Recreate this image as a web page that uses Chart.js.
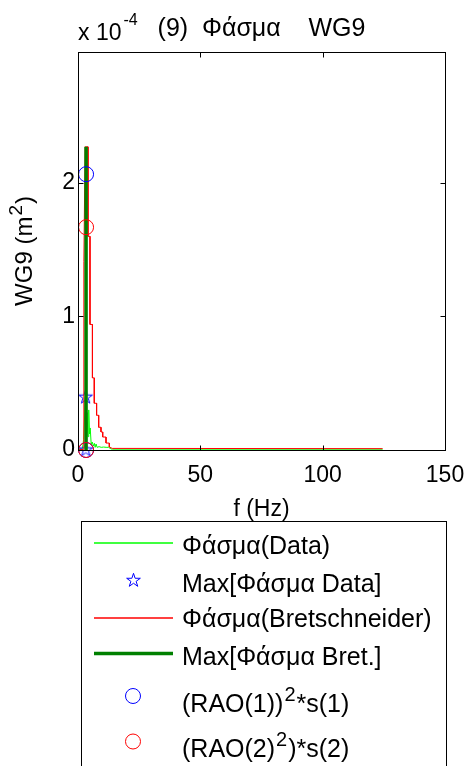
<!DOCTYPE html>
<html>
<head>
<meta charset="utf-8">
<script src="https://cdn.jsdelivr.net/npm/chart.js@4/dist/chart.umd.min.js"></script>
<style>
  html, body { margin: 0; padding: 0; background: #ffffff; }
  canvas { display: block; }
</style>
</head>
<body>
<canvas id="c" width="469" height="766"></canvas>
<script>
// ---------------- data (spectral density in units of 1e-4 m^2) ----------------
const yExponent = -4;
const xTicks = [0, 50, 100, 150];
const yTicks = [0, 1, 2];

const chartTitle = '(9)  Φάσμα    WG9';
const xTitle = 'f (Hz)';
const yTitle = 'WG9 (m²)';

const seriesLabels = [
  'Φάσμα(Data)',
  'Max[Φάσμα Data]',
  'Φάσμα(Bretschneider)',
  'Max[Φάσμα Bret.]',
  '(RAO(1))²*s(1)',
  '(RAO(2)²)*s(2)'
];

// measured spectrum (thin bright green)
const dataFreq = [0, 1.8, 2.3, 2.8, 3.0, 3.3, 3.7, 4.1, 4.4, 4.7, 5.0, 5.4, 5.8, 6.3, 6.7, 7.0, 7.4, 7.8, 8.6, 9.5, 10.5, 11.5, 12.5, 13.5, 14.0, 124.5];
const dataSpec = [0, 0.01, 0.08, 0.30, 0.395, 0.20, 0.28, 0.10, 0.30, 0.12, 0.165, 0.04, 0.06, 0.03, 0.05, 0.02, 0.045, 0.02, 0.025, 0.02, 0.022, 0.02, 0.02, 0.008, 0.006, 0.006];

// Bretschneider spectrum (thin red)
const bretFreq = [0, 2.25, 2.4, 2.9, 4.1, 4.1, 4.9, 4.9, 5.9, 5.9, 6.65, 6.65, 7.6, 7.6, 8.45, 8.45, 9.4, 9.4, 10.1, 10.1, 11.45, 11.45, 12.8, 12.8, 14.0, 124.5];
const bretSpec = [0, 0.005, 1.41, 2.27, 2.27, 1.60, 1.60, 0.94, 0.94, 0.54, 0.54, 0.35, 0.35, 0.26, 0.26, 0.17, 0.17, 0.135, 0.135, 0.097, 0.097, 0.052, 0.052, 0.022, 0.012, 0.01];

// max of measured spectrum (blue pentagrams)
const maxDataFreq = [3.1, 3.2];
const maxDataVal = [0.395, 0.0];

// max of Bretschneider (thick dark green vertical)
const maxBretFreq = [3.3, 3.3];
const maxBretVal = [0.0, 2.27];

// (RAO(1))^2 * s(1)  (blue circles)
const rao1Freq = [3.3, 3.3];
const rao1Val = [2.065, 0.0];

// (RAO(2)^2) * s(2)  (red circles)
const rao2Freq = [3.3, 3.3];
const rao2Val = [1.668, 0.0];

// ---------------- helpers ----------------
const FONT = "'Liberation Sans', Arial, Helvetica, sans-serif";
const zip = (xs, ys) => xs.map((x, i) => ({ x: x, y: ys[i] }));

function makePentagram(r, color) {
  const s = Math.ceil(2 * r + 4);
  const c = document.createElement('canvas');
  c.width = s; c.height = s;
  const g = c.getContext('2d');
  g.strokeStyle = color; g.lineWidth = 1;
  g.beginPath();
  for (let k = 0; k < 10; k++) {
    const rad = (k % 2) ? r * 0.382 : r;
    const a = -Math.PI / 2 + k * Math.PI / 5;
    const px = s / 2 + rad * Math.cos(a), py = s / 2 + rad * Math.sin(a);
    if (k === 0) g.moveTo(px, py); else g.lineTo(px, py);
  }
  g.closePath(); g.stroke();
  return c;
}
const starImg = makePentagram(7.2, '#0000ff');

// draw text where '²' becomes a raised smaller 2 ; returns width
function drawRich(ctx, text, x, y, size, dry) {
  const parts = text.split('²');
  let cx = x;
  parts.forEach((p, i) => {
    ctx.font = size + 'px ' + FONT;
    if (!dry) ctx.fillText(p, cx, y);
    cx += ctx.measureText(p).width;
    if (i < parts.length - 1) {
      ctx.font = Math.round(size * 0.8) + 'px ' + FONT;
      if (!dry) ctx.fillText('2', cx + 1, y - Math.round(size * 0.42));
      cx += ctx.measureText('2').width + 2;
    }
  });
  return cx - x;
}

// frame with inward ticks (box on), title, y title and exponent label
const framePlugin = {
  id: 'frame',
  afterDraw(chart) {
    const { ctx, chartArea: a, scales } = chart;
    ctx.save();
    ctx.strokeStyle = '#000'; ctx.lineWidth = 1;
    const L = Math.round(a.left) + 0.5, R = Math.round(a.right) + 0.5;
    const T = Math.round(a.top) + 0.5, B = Math.round(a.bottom) + 0.5;
    ctx.strokeRect(L, T, R - L, B - T);
    const tl = 5;
    ctx.beginPath();
    scales.x.ticks.forEach(t => {
      const px = Math.round(scales.x.getPixelForValue(t.value)) + 0.5;
      ctx.moveTo(px, B); ctx.lineTo(px, B - tl);
      ctx.moveTo(px, T); ctx.lineTo(px, T + tl);
    });
    scales.y.ticks.forEach(t => {
      const py = Math.round(scales.y.getPixelForValue(t.value)) + 0.5;
      ctx.moveTo(L, py); ctx.lineTo(L + tl, py);
      ctx.moveTo(R, py); ctx.lineTo(R - tl, py);
    });
    ctx.stroke();

    ctx.fillStyle = '#000';
    ctx.textBaseline = 'alphabetic';
    ctx.textAlign = 'left';

    // exponent label
    ctx.font = '23px ' + FONT;
    ctx.fillText('x 10', a.left, 40);
    const w = ctx.measureText('x 10').width;
    ctx.font = '16px ' + FONT;
    ctx.fillText(String(yExponent), a.left + w + 2, 25);

    // title
    ctx.font = '25px ' + FONT;
    const tw = ctx.measureText(chartTitle).width;
    ctx.fillText(chartTitle, (a.left + a.right) / 2 - tw / 2, 36);

    // y axis title (rotated, with superscript)
    const yw = drawRich(ctx, yTitle, 0, 0, 24, true);
    ctx.translate(32, (a.top + a.bottom) / 2 + yw / 2);
    ctx.rotate(-Math.PI / 2);
    drawRich(ctx, yTitle, 0, 0, 24, false);
    ctx.restore();
  }
};

// legend box below the axes
const legendPlugin = {
  id: 'boxLegend',
  afterDraw(chart) {
    const { ctx } = chart;
    const markY = [543, 580, 618, 653.5, 696, 741.5];
    const textY = [553.5, 591.5, 627, 665, 711.5, 756.5];
    ctx.save();
    ctx.strokeStyle = '#000'; ctx.lineWidth = 1;
    ctx.strokeRect(81.5, 521.5, 365, 300);
    chart.data.datasets.forEach((ds, i) => {
      const y = markY[i];
      if (ds.showLine) {
        ctx.strokeStyle = ds.borderColor;
        ctx.lineWidth = Math.max(ds.borderWidth, 1.3);
        ctx.beginPath(); ctx.moveTo(94, y); ctx.lineTo(173, y); ctx.stroke();
      } else if (ds.pointStyle === 'circle') {
        ctx.strokeStyle = ds.pointBorderColor; ctx.lineWidth = 1;
        ctx.beginPath(); ctx.arc(133, y, 7.5, 0, Math.PI * 2); ctx.stroke();
      } else {
        const img = ds.pointStyle;
        ctx.drawImage(img, Math.round(133 - img.width / 2), Math.round(y - img.height / 2));
      }
      ctx.fillStyle = '#000';
      ctx.textAlign = 'left'; ctx.textBaseline = 'alphabetic';
      drawRich(ctx, ds.label, 182, textY[i], 25, false);
    });
    ctx.restore();
  }
};

const tickFont = { family: FONT, size: 23 };

new Chart(document.getElementById('c'), {
  type: 'scatter',
  data: {
    datasets: [
      { label: seriesLabels[0], data: zip(dataFreq, dataSpec), showLine: true, borderColor: '#00ff00', borderWidth: 1, pointRadius: 0, order: 6 },
      { label: seriesLabels[1], data: zip(maxDataFreq, maxDataVal), showLine: false, pointStyle: starImg, pointRadius: 7, clip: false, order: 5 },
      { label: seriesLabels[2], data: zip(bretFreq, bretSpec), showLine: true, borderColor: '#ff0000', borderWidth: 1, pointRadius: 0, order: 4 },
      { label: seriesLabels[3], data: zip(maxBretFreq, maxBretVal), showLine: true, borderColor: '#008000', borderWidth: 3.5, pointRadius: 0, order: 3 },
      { label: seriesLabels[4], data: zip(rao1Freq, rao1Val), showLine: false, pointStyle: 'circle', pointRadius: 7.5, pointBorderWidth: 1, pointBorderColor: '#0000ff', pointBackgroundColor: 'rgba(0,0,0,0)', clip: false, order: 2 },
      { label: seriesLabels[5], data: zip(rao2Freq, rao2Val), showLine: false, pointStyle: 'circle', pointRadius: 7.5, pointBorderWidth: 1, pointBorderColor: '#ff0000', pointBackgroundColor: 'rgba(0,0,0,0)', clip: false, order: 1 }
    ]
  },
  options: {
    responsive: false,
    animation: false,
    devicePixelRatio: 1,
    layout: { padding: { top: 52, right: 24, bottom: 240, left: 0 } },
    plugins: { legend: { display: false }, tooltip: { enabled: false } },
    elements: { line: { tension: 0 } },
    scales: {
      x: {
        type: 'linear', min: 0, max: 150,
        afterBuildTicks: s => { s.ticks = xTicks.map(v => ({ value: v })); },
        grid: { display: false, drawTicks: false },
        border: { display: false },
        ticks: { font: tickFont, color: '#000', padding: 12, maxRotation: 0, autoSkip: false },
        title: { display: true, text: xTitle, font: tickFont, color: '#000', padding: { top: 4, bottom: 3 } },
        afterFit: s => { s.height = 76; s.paddingLeft = 0; s.paddingRight = 0; }
      },
      y: {
        type: 'linear', min: 0, max: 2.98,
        afterBuildTicks: s => { s.ticks = yTicks.map(v => ({ value: v })); },
        grid: { display: false, drawTicks: false },
        border: { display: false },
        ticks: { font: tickFont, color: '#000', padding: 3, autoSkip: false },
        title: { display: false },
        afterFit: s => { s.width = 78; s.paddingTop = 0; s.paddingBottom = 0; }
      }
    }
  },
  plugins: [framePlugin, legendPlugin]
});
</script>
</body>
</html>
